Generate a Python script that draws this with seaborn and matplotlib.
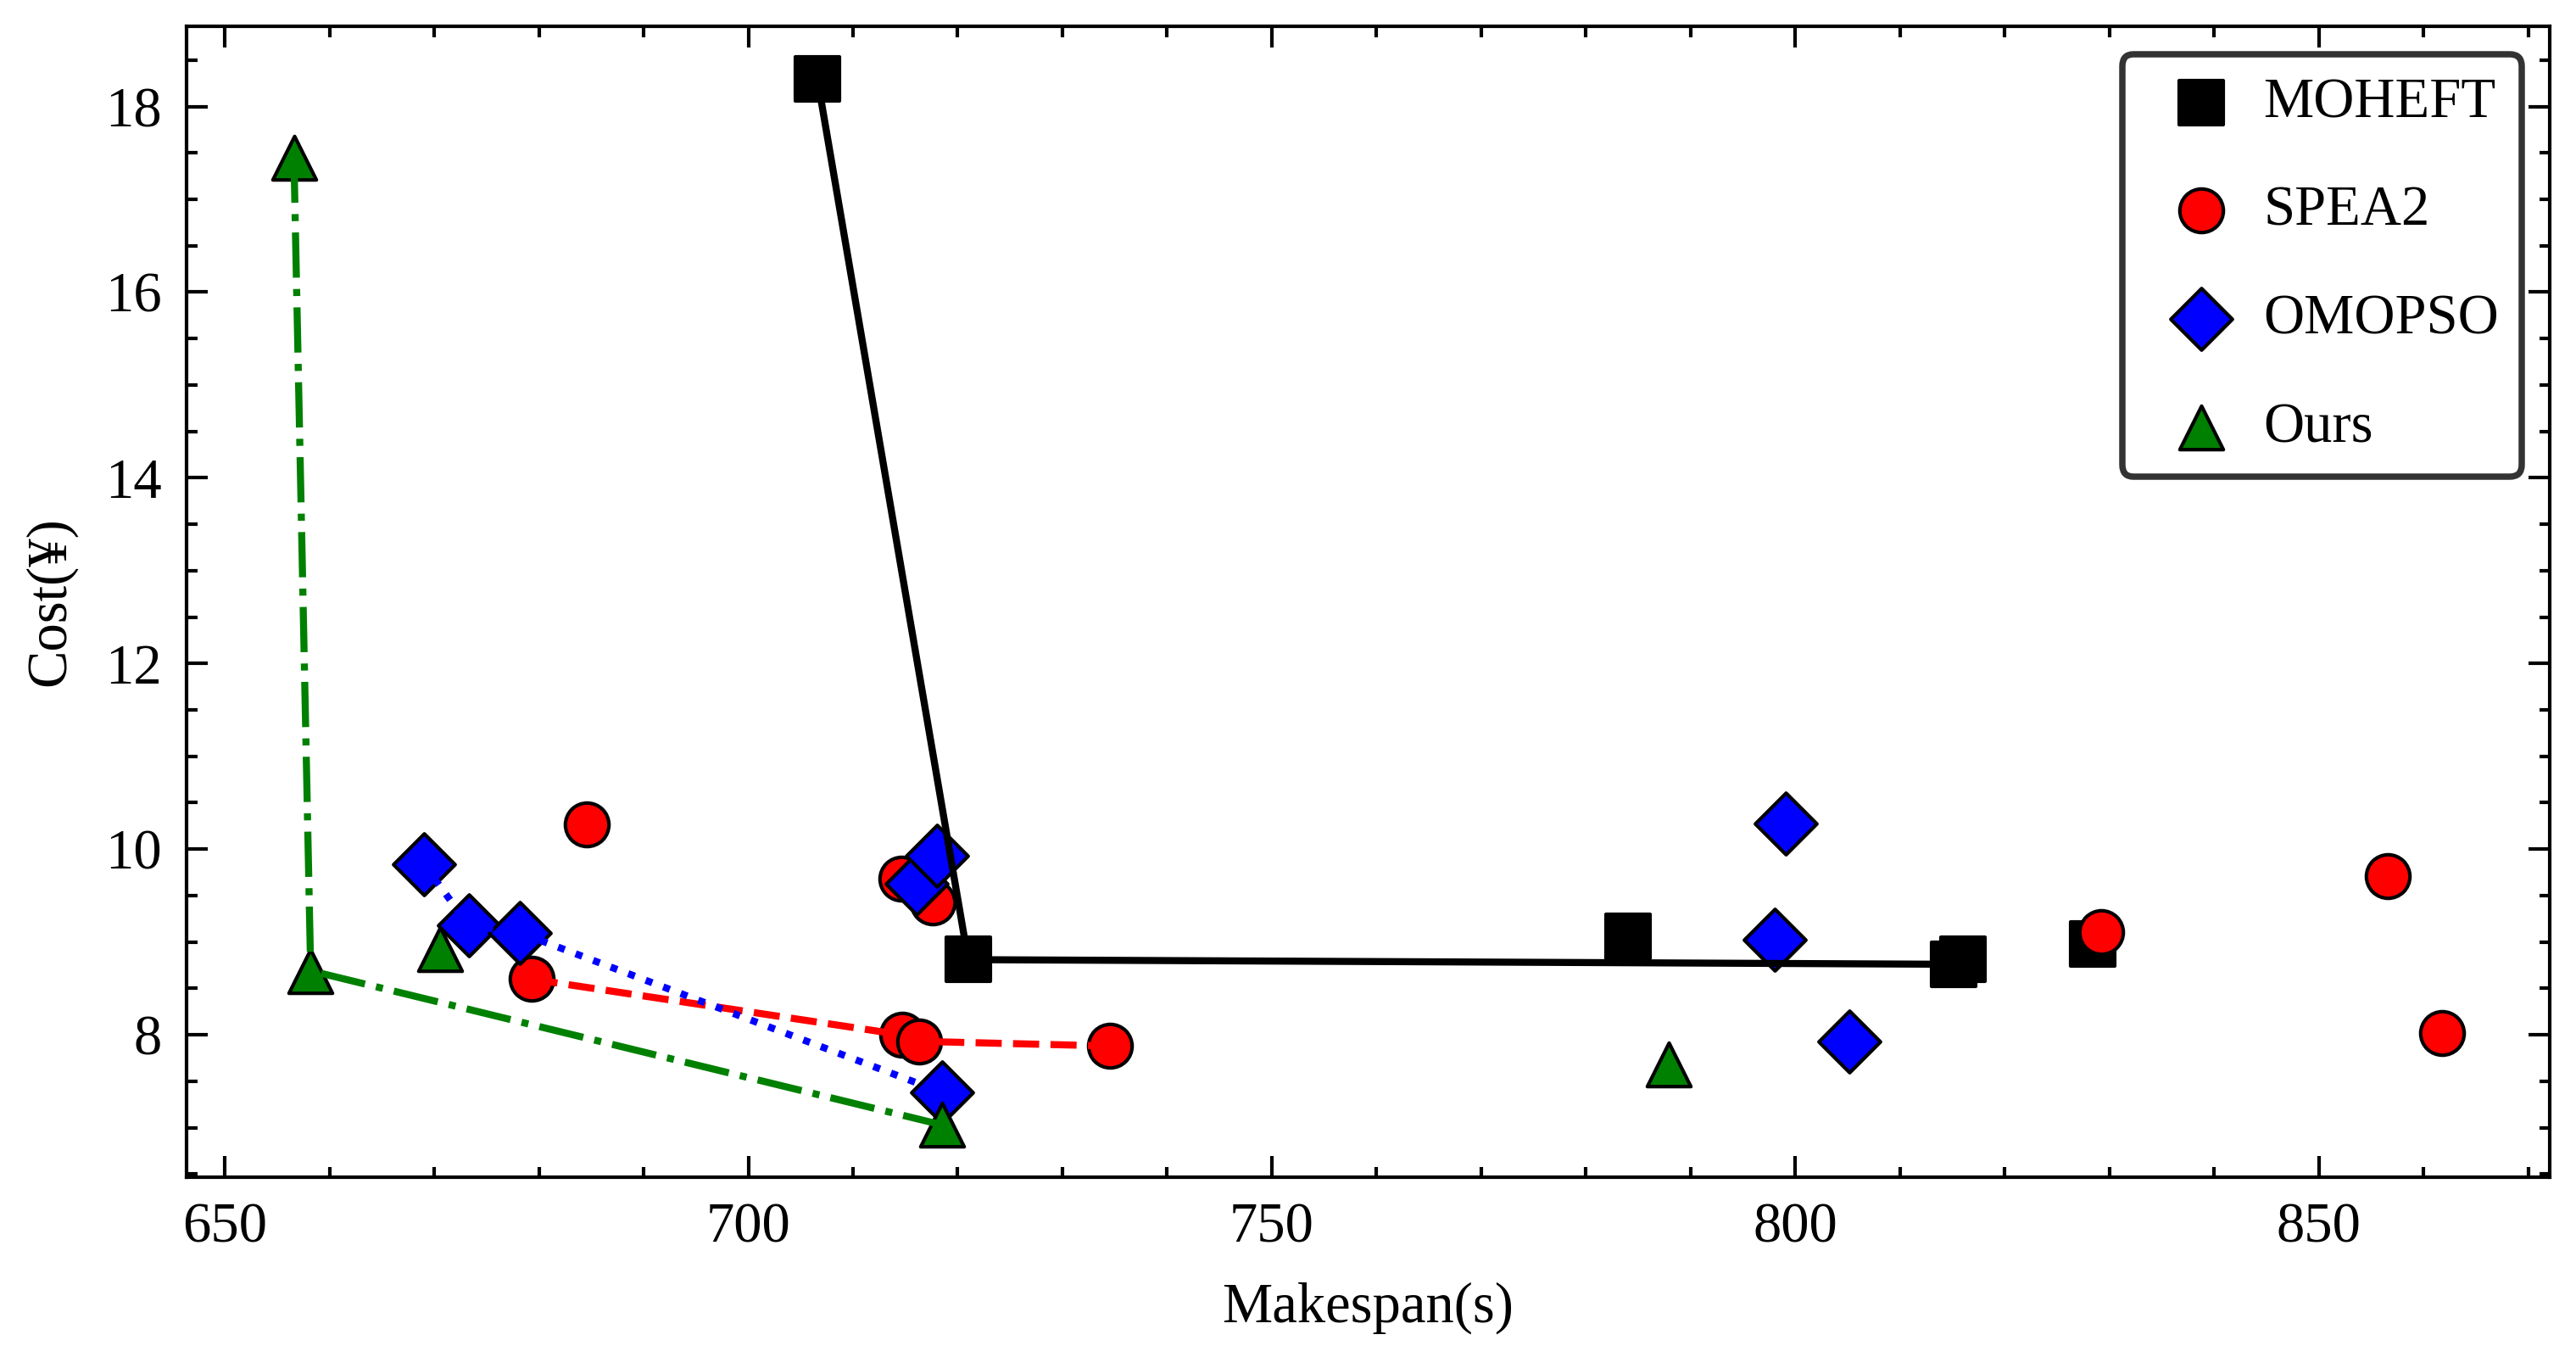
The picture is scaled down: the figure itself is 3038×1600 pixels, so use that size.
import matplotlib
matplotlib.use("Agg")
import matplotlib.pyplot as plt
import pandas as pd
import seaborn as sns

# Makespan (s) / Cost (yuan)
moheft_x = [706.6, 721.0, 784.0, 815.1, 816.0, 828.4]
moheft_y = [18.30, 8.81, 9.06, 8.76, 8.81, 8.98]

spea2_x = [679.3, 684.6, 714.6, 714.7, 716.3, 717.6, 734.5, 829.2, 856.6, 861.8]
spea2_y = [8.60, 10.27, 9.68, 8.00, 7.93, 9.43, 7.88, 9.11, 9.71, 8.02]

omopso_x = [669.0, 673.3, 678.2, 716.1, 718.0, 718.5, 798.0, 799.1, 805.2]
omopso_y = [9.84, 9.18, 9.10, 9.63, 9.93, 7.38, 9.02, 10.28, 7.93]

ours_x = [656.6, 658.2, 670.6, 718.5, 787.9]
ours_y = [17.45, 8.69, 8.92, 7.03, 7.68]

methods = ["MOHEFT", "SPEA2", "OMOPSO", "Ours"]
colors = {"MOHEFT": "k", "SPEA2": "r", "OMOPSO": "b", "Ours": "g"}
markers = {"MOHEFT": "s", "SPEA2": "o", "OMOPSO": "D", "Ours": "^"}
linestyles = {"MOHEFT": "-", "SPEA2": "--", "OMOPSO": ":", "Ours": "-."}


def pareto_front(df):
    """Non-dominated points (minimise both), sorted by makespan."""
    df = df.sort_values("makespan")
    keep, best = [], float("inf")
    for _, row in df.iterrows():
        if row["cost"] < best:
            keep.append(row)
            best = row["cost"]
    return pd.DataFrame(keep)


frames = []
for name, xs, ys in [("MOHEFT", moheft_x, moheft_y), ("SPEA2", spea2_x, spea2_y),
                     ("OMOPSO", omopso_x, omopso_y), ("Ours", ours_x, ours_y)]:
    frames.append(pd.DataFrame({"makespan": xs, "cost": ys, "method": name}))
df = pd.concat(frames, ignore_index=True)

sns.set_style("ticks")
plt.rcParams.update({
    "font.family": ["Liberation Serif", "DejaVu Serif"],
    "font.size": 8,
    "text.color": "black", "axes.labelcolor": "black",
    "axes.edgecolor": "black", "xtick.color": "black", "ytick.color": "black",
    "axes.linewidth": 0.5,
    "xtick.direction": "in", "ytick.direction": "in",
    "xtick.top": True, "ytick.right": True,
    "xtick.major.size": 3, "ytick.major.size": 3,
    "xtick.minor.size": 1.5, "ytick.minor.size": 1.5,
    "xtick.major.width": 0.5, "ytick.major.width": 0.5,
    "xtick.minor.width": 0.5, "ytick.minor.width": 0.5,
    "xtick.minor.visible": True, "ytick.minor.visible": True,
    "xtick.labelsize": 8, "ytick.labelsize": 8,
    "axes.labelsize": 8,
})

fig = plt.figure(figsize=(3038 / 600, 1600 / 600), dpi=600)
ax = fig.add_axes([0.0724, 0.1325, 0.9174, 0.8481])

for m in methods:
    sub = df[df["method"] == m]
    sns.scatterplot(data=sub, x="makespan", y="cost", color=colors[m], marker=markers[m],
                    s=38, edgecolor="k", linewidth=0.5, label=m, ax=ax)

for m in methods:
    front = pareto_front(df[df["method"] == m])
    sns.lineplot(data=front, x="makespan", y="cost", color=colors[m], linestyle=linestyles[m],
                 linewidth=1.0, estimator=None, sort=False, ax=ax)

ax.set_xlabel("Makespan(s)")
ax.set_ylabel("Cost(¥)")
ax.set_xticks([650, 700, 750, 800, 850])
ax.set_yticks([8, 10, 12, 14, 16, 18])

ax.legend(loc="upper right", frameon=True, fancybox=True, edgecolor="black", framealpha=0.8,
          labelspacing=1.0, handletextpad=0.1, borderpad=0.4, fontsize=8)
ax.get_legend().get_frame().set_linewidth(0.9)

fig.savefig("out.png", dpi=600)
plt.close(fig)
